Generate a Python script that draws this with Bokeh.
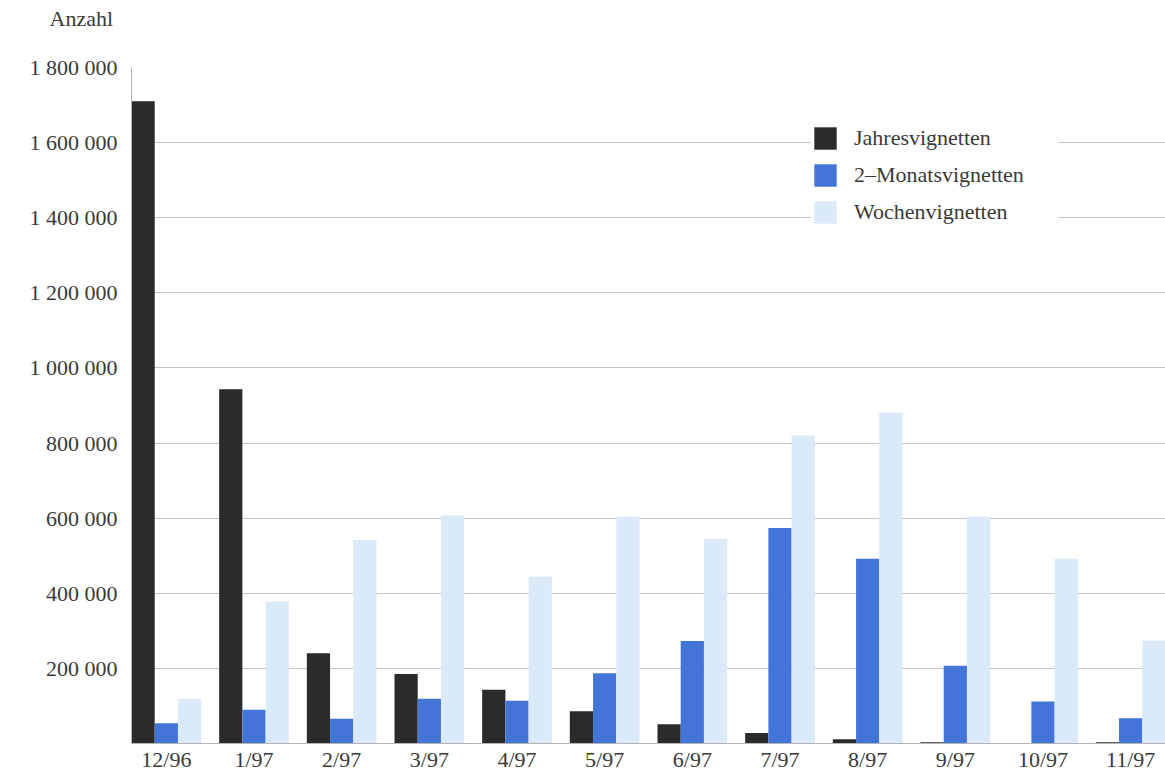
from bokeh.plotting import figure
from bokeh.models import FactorRange, Range1d, FixedTicker, Legend, LegendItem, ColumnDataSource, Title
from bokeh.transform import dodge
from bokeh.embed import file_html
from bokeh.resources import INLINE

# ---- data ----
months = ["12/96", "1/97", "2/97", "3/97", "4/97", "5/97", "6/97",
          "7/97", "8/97", "9/97", "10/97", "11/97"]
jahresvignetten = [1710000, 943000, 240000, 185000, 143000, 86000, 51000,
                   28000, 11000, 3500, 1500, 3000]
monatsvignetten = [54000, 90000, 66000, 119000, 114000, 187000, 273000,
                   574000, 492000, 207000, 112000, 67000]
wochenvignetten = [119000, 378000, 542000, 607000, 445000, 604000, 545000,
                   820000, 881000, 604000, 492000, 274000]
series_names = ["Jahresvignetten", "2\u2013Monatsvignetten", "Wochenvignetten"]
ytick_values = [200000, 400000, 600000, 800000, 1000000, 1200000, 1400000, 1600000, 1800000]
ytick_labels = ["200 000", "400 000", "600 000", "800 000", "1 000 000",
                "1 200 000", "1 400 000", "1 600 000", "1 800 000"]
y_title = "Anzahl"

# ---- style ----
FONT = "Liberation Serif"
TXT = "#3a3a3a"
FS = "22px"
COLORS = ["#2b2b2b", "#4375d8", "#dbeaf8"]
GRID = "#c6c6c6"

source = ColumnDataSource(dict(month=months, j=jahresvignetten,
                               m=monatsvignetten, w=wochenvignetten))

p = figure(
    x_range=FactorRange(factors=months, range_padding=-0.1025,
                        range_padding_units="absolute"),
    y_range=Range1d(0, 1800000),
    frame_width=1034, frame_height=676,
    min_border_left=131, min_border_right=0, min_border_top=67, min_border_bottom=30,
    output_backend="svg", toolbar_location=None,
    background_fill_color="white", border_fill_color="white",
)
p.outline_line_color = None

# spacer panel next to the frame, then the "Anzahl" title above it
p.add_layout(Title(text=" ", text_font_size="1px", standoff=34), "above")
p.add_layout(Title(text=y_title, align="left", offset=-82, standoff=0,
                   text_font=FONT, text_font_size=FS, text_font_style="normal",
                   text_color=TXT), "above")

bw = 0.265
r1 = p.vbar(x=dodge("month", -bw, range=p.x_range), top="j", width=bw,
            source=source, fill_color=COLORS[0], line_color=None)
r2 = p.vbar(x=dodge("month", 0, range=p.x_range), top="m", width=bw,
            source=source, fill_color=COLORS[1], line_color=None)
r3 = p.vbar(x=dodge("month", bw, range=p.x_range), top="w", width=bw,
            source=source, fill_color=COLORS[2], line_color=None)

# axes
p.yaxis.ticker = FixedTicker(ticks=ytick_values)
p.yaxis.major_label_overrides = dict(zip(ytick_values, ytick_labels))
for ax in (p.xaxis[0], p.yaxis[0]):
    ax.axis_line_color = "#b4b4b4"
    ax.axis_line_width = 1
    ax.major_tick_line_color = None
    ax.minor_tick_line_color = None
    ax.major_label_text_font = FONT
    ax.major_label_text_font_size = FS
    ax.major_label_text_color = TXT
p.yaxis.major_label_standoff = 8
p.xaxis.major_label_standoff = -3

p.xgrid.grid_line_color = None
p.ygrid.grid_line_color = GRID
p.ygrid.grid_line_width = 1

legend = Legend(
    items=[LegendItem(label=series_names[0], renderers=[r1]),
           LegendItem(label=series_names[1], renderers=[r2]),
           LegendItem(label=series_names[2], renderers=[r3])],
    location=(680, 517),
    padding=6, margin=0, spacing=9,
    glyph_width=28, glyph_height=28, label_standoff=15,
    label_width=204, label_height=28,
    label_text_font=FONT, label_text_font_size=FS, label_text_color=TXT,
    label_text_baseline="middle",
    border_line_color=None, background_fill_color="white", background_fill_alpha=1.0,
)
p.add_layout(legend)

open("out.html", "w").write(file_html(p, INLINE))
